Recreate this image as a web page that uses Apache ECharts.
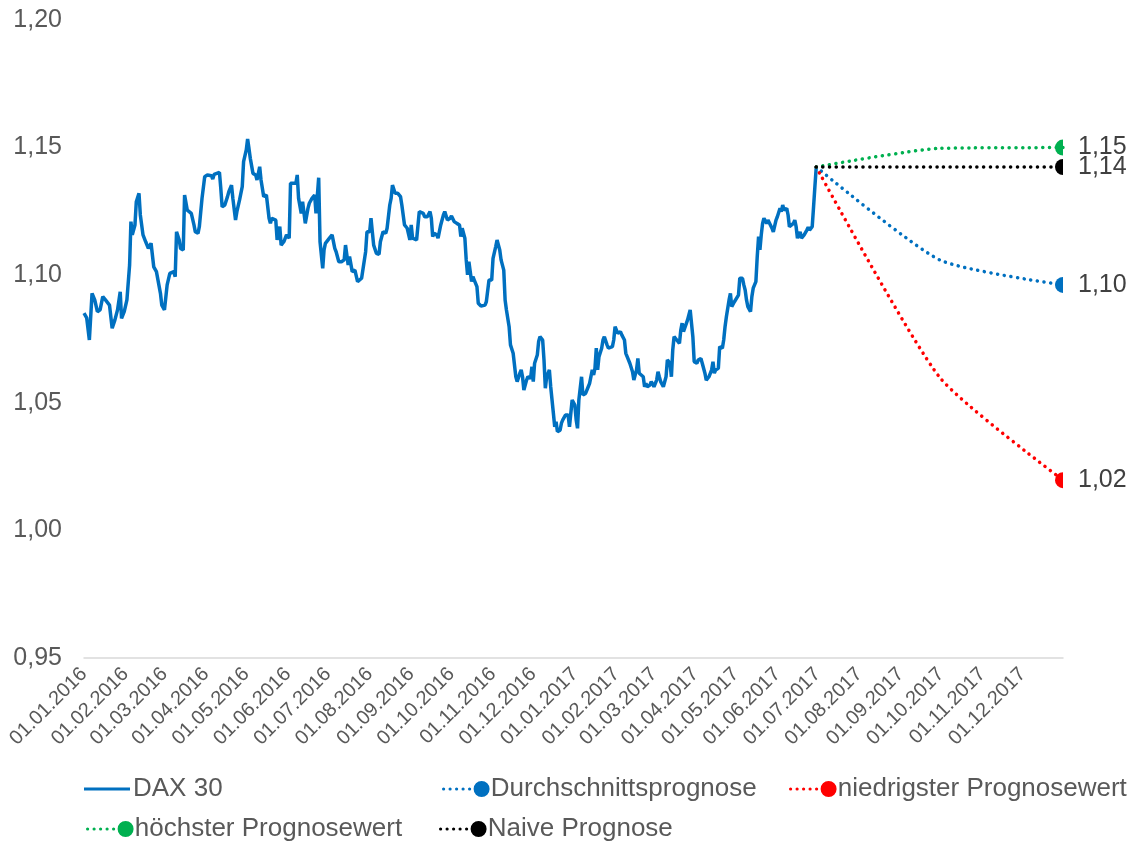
<!DOCTYPE html>
<html lang="de">
<head>
<meta charset="UTF-8">
<title>DAX 30 Prognose</title>
<style>
  html, body { margin: 0; padding: 0; background: #fff; }
</style>
</head>
<body>
<div id="main" style="width: 1141px; height: 843px;"></div>

<script src="https://cdn.jsdelivr.net/npm/echarts@6/dist/echarts.min.js"></script>
<script>
// Kursverlauf
var daxDates = [
  '2016-01-01','2016-01-03','2016-01-05','2016-01-07','2016-01-09','2016-01-11','2016-01-13','2016-01-15','2016-01-17','2016-01-18',
  '2016-01-20','2016-01-22','2016-01-24','2016-01-26','2016-01-28','2016-01-29','2016-01-31','2016-02-02','2016-02-04','2016-02-05',
  '2016-02-06','2016-02-08','2016-02-09','2016-02-11','2016-02-12','2016-02-14','2016-02-16','2016-02-18','2016-02-20','2016-02-22',
  '2016-02-24','2016-02-25','2016-02-27','2016-02-28','2016-03-01','2016-03-02','2016-03-03','2016-03-05','2016-03-08','2016-03-09',
  '2016-03-10','2016-03-12','2016-03-13','2016-03-15','2016-03-16','2016-03-18','2016-03-21','2016-03-23','2016-03-24','2016-03-26',
  '2016-03-27','2016-03-29','2016-03-31','2016-04-02','2016-04-05','2016-04-06','2016-04-07','2016-04-09','2016-04-11','2016-04-12',
  '2016-04-13','2016-04-15','2016-04-17','2016-04-18','2016-04-20','2016-04-21','2016-04-23','2016-04-24','2016-04-26','2016-04-28',
  '2016-04-29','2016-05-01','2016-05-02','2016-05-03','2016-05-04','2016-05-06','2016-05-08','2016-05-09','2016-05-11','2016-05-12',
  '2016-05-14','2016-05-16','2016-05-18','2016-05-19','2016-05-20','2016-05-23','2016-05-24','2016-05-26','2016-05-27','2016-05-29',
  '2016-05-30','2016-05-31','2016-06-02','2016-06-03','2016-06-04','2016-06-07','2016-06-08','2016-06-09','2016-06-11','2016-06-12',
  '2016-06-14','2016-06-16','2016-06-17','2016-06-19','2016-06-21','2016-06-22','2016-06-24','2016-06-25','2016-06-27','2016-06-28',
  '2016-06-29','2016-07-02','2016-07-04','2016-07-06','2016-07-07','2016-07-09','2016-07-11','2016-07-13','2016-07-14','2016-07-16',
  '2016-07-17','2016-07-19','2016-07-21','2016-07-23','2016-07-26','2016-07-27','2016-07-29','2016-07-30','2016-08-01','2016-08-02',
  '2016-08-03','2016-08-04','2016-08-06','2016-08-08','2016-08-09','2016-08-11','2016-08-13','2016-08-14','2016-08-16','2016-08-17',
  '2016-08-18','2016-08-20','2016-08-22','2016-08-24','2016-08-25','2016-08-26','2016-08-27','2016-08-29','2016-08-31','2016-09-01',
  '2016-09-02','2016-09-03','2016-09-05','2016-09-07','2016-09-08','2016-09-10','2016-09-11','2016-09-13','2016-09-15','2016-09-16',
  '2016-09-17','2016-09-18','2016-09-20','2016-09-21','2016-09-23','2016-09-25','2016-09-26','2016-09-28','2016-09-30','2016-10-01',
  '2016-10-03','2016-10-05','2016-10-07','2016-10-08','2016-10-09','2016-10-11','2016-10-12','2016-10-13','2016-10-14','2016-10-16',
  '2016-10-17','2016-10-18','2016-10-20','2016-10-21','2016-10-23','2016-10-26','2016-10-27','2016-10-28','2016-10-29','2016-10-31',
  '2016-11-01','2016-11-03','2016-11-04','2016-11-06','2016-11-07','2016-11-09','2016-11-10','2016-11-11','2016-11-13','2016-11-14',
  '2016-11-16','2016-11-18','2016-11-19','2016-11-21','2016-11-22','2016-11-23','2016-11-24','2016-11-26','2016-11-27','2016-11-29',
  '2016-11-30','2016-12-01','2016-12-02','2016-12-04','2016-12-05','2016-12-06','2016-12-08','2016-12-09','2016-12-10','2016-12-11',
  '2016-12-13','2016-12-14','2016-12-16','2016-12-17','2016-12-18','2016-12-19','2016-12-21','2016-12-22','2016-12-23','2016-12-25',
  '2016-12-27','2016-12-28','2016-12-29','2016-12-30','2017-01-01','2017-01-02','2017-01-03','2017-01-04','2017-01-06','2017-01-07',
  '2017-01-09','2017-01-11','2017-01-12','2017-01-14','2017-01-15','2017-01-16','2017-01-17','2017-01-18','2017-01-19','2017-01-21',
  '2017-01-22','2017-01-23','2017-01-25','2017-01-26','2017-01-27','2017-01-29','2017-01-30','2017-01-31','2017-02-02','2017-02-04',
  '2017-02-05','2017-02-07','2017-02-08','2017-02-09','2017-02-11','2017-02-13','2017-02-14','2017-02-16','2017-02-17','2017-02-18',
  '2017-02-19','2017-02-21','2017-02-22','2017-02-23','2017-02-24','2017-02-26','2017-02-27','2017-02-28','2017-03-01','2017-03-03',
  '2017-03-04','2017-03-05','2017-03-06','2017-03-08','2017-03-09','2017-03-10','2017-03-11','2017-03-13','2017-03-14','2017-03-15',
  '2017-03-16','2017-03-18','2017-03-20','2017-03-21','2017-03-22','2017-03-23','2017-03-24','2017-03-26','2017-03-28','2017-03-30',
  '2017-03-31','2017-04-02','2017-04-03','2017-04-05','2017-04-06','2017-04-08','2017-04-09','2017-04-10','2017-04-11','2017-04-13',
  '2017-04-14','2017-04-15','2017-04-16','2017-04-18','2017-04-19','2017-04-20','2017-04-21','2017-04-22','2017-04-23','2017-04-24',
  '2017-04-26','2017-04-27','2017-04-28','2017-04-29','2017-04-30','2017-05-01','2017-05-03','2017-05-04','2017-05-06','2017-05-07',
  '2017-05-08','2017-05-09','2017-05-10','2017-05-11','2017-05-12','2017-05-13','2017-05-14','2017-05-15','2017-05-16','2017-05-17',
  '2017-05-18','2017-05-19','2017-05-20','2017-05-21','2017-05-22','2017-05-23','2017-05-24','2017-05-25','2017-05-26','2017-05-28',
  '2017-05-29','2017-05-30','2017-05-31','2017-06-01','2017-06-03','2017-06-04','2017-06-05','2017-06-06','2017-06-08','2017-06-09',
  '2017-06-10','2017-06-11','2017-06-13','2017-06-14','2017-06-15','2017-06-16','2017-06-18','2017-06-19','2017-06-20','2017-06-21',
  '2017-06-23','2017-06-24','2017-06-25','2017-06-26','2017-06-27','2017-06-28','2017-06-29','2017-06-30'
];
var daxValues = [
  1.0851,1.0833,1.0746,1.0929,1.0903,1.0857,1.0864,1.0916,1.0903,1.0909,
  1.0883,1.0792,1.0824,1.0864,1.0935,1.0831,1.0857,1.0903,1.1040,1.1210,
  1.1158,1.1197,1.1288,1.1321,1.1236,1.1158,1.1131,1.1105,1.1125,1.1033,
  1.1014,1.1007,1.0929,1.0883,1.0864,1.0870,1.0962,1.1007,1.1014,1.0994,
  1.1170,1.1138,1.1105,1.1099,1.1314,1.1255,1.1242,1.1197,1.1170,1.1164,
  1.1190,1.1301,1.1386,1.1393,1.1390,1.1377,1.1395,1.1399,1.1403,1.1340,
  1.1268,1.1275,1.1308,1.1327,1.1353,1.1301,1.1216,1.1249,1.1295,1.1347,
  1.1445,1.1491,1.1534,1.1497,1.1458,1.1399,1.1393,1.1373,1.1425,1.1373,
  1.1308,1.1314,1.1223,1.1203,1.1223,1.1216,1.1138,1.1190,1.1118,1.1131,
  1.1125,1.1158,1.1145,1.1360,1.1367,1.1360,1.1393,1.1301,1.1242,1.1288,
  1.1203,1.1262,1.1282,1.1301,1.1314,1.1242,1.1382,1.1131,1.1027,1.1099,
  1.1125,1.1145,1.1158,1.1105,1.1092,1.1053,1.1053,1.1060,1.1118,1.1040,
  1.1073,1.1014,1.1020,1.0975,1.0988,1.0981,1.1092,1.1170,1.1170,1.1223,
  1.1170,1.1118,1.1086,1.1082,1.1131,1.1170,1.1164,1.1184,1.1275,1.1301,
  1.1353,1.1321,1.1321,1.1308,1.1275,1.1268,1.1197,1.1184,1.1138,1.1197,
  1.1145,1.1145,1.1138,1.1249,1.1255,1.1242,1.1229,1.1229,1.1249,1.1223,
  1.1151,1.1164,1.1158,1.1145,1.1197,1.1236,1.1249,1.1216,1.1223,1.1232,
  1.1210,1.1203,1.1197,1.1151,1.1184,1.1145,1.1060,1.1001,1.1053,1.0975,
  1.0994,1.0981,1.0955,1.0890,1.0879,1.0883,1.0896,1.0903,1.0981,1.0981,
  1.1066,1.1112,1.1138,1.1099,1.1060,1.1020,1.0903,1.0864,1.0798,1.0727,
  1.0694,1.0602,1.0583,1.0616,1.0629,1.0602,1.0550,1.0589,1.0602,1.0596,
  1.0641,1.0583,1.0655,1.0687,1.0740,1.0759,1.0746,1.0668,1.0557,1.0602,
  1.0629,1.0563,1.0459,1.0406,1.0426,1.0387,1.0393,1.0420,1.0433,1.0452,
  1.0452,1.0406,1.0459,1.0511,1.0491,1.0433,1.0400,1.0511,1.0602,1.0531,
  1.0537,1.0563,1.0576,1.0629,1.0609,1.0635,1.0714,1.0629,1.0681,1.0714,
  1.0746,1.0759,1.0727,1.0714,1.0720,1.0720,1.0746,1.0798,1.0772,1.0779,
  1.0766,1.0746,1.0694,1.0681,1.0655,1.0622,1.0589,1.0629,1.0674,1.0616,
  1.0616,1.0602,1.0563,1.0576,1.0563,1.0570,1.0583,1.0576,1.0563,1.0589,
  1.0622,1.0602,1.0583,1.0563,1.0557,1.0602,1.0668,1.0655,1.0602,1.0707,
  1.0759,1.0746,1.0733,1.0785,1.0812,1.0779,1.0785,1.0824,1.0864,1.0759,
  1.0661,1.0655,1.0668,1.0674,1.0655,1.0616,1.0589,1.0589,1.0602,1.0629,
  1.0661,1.0616,1.0629,1.0635,1.0720,1.0727,1.0714,1.0746,1.0798,1.0837,
  1.0903,1.0929,1.0877,1.0883,1.0896,1.0890,1.0922,1.0988,1.0988,1.0962,
  1.0942,1.0903,1.0877,1.0870,1.0857,1.0916,1.0949,1.0955,1.0975,1.1073,
  1.1151,1.1099,1.1158,1.1203,1.1223,1.1229,1.1203,1.1216,1.1210,1.1184,
  1.1170,1.1164,1.1216,1.1229,1.1262,1.1249,1.1275,1.1255,1.1262,1.1236,
  1.1190,1.1197,1.1203,1.1216,1.1190,1.1145,1.1170,1.1145,1.1138,1.1158,
  1.1177,1.1188,1.1177,1.1177,1.1190,1.1268,1.1347,1.1424
];

// Prognosen
var forecastDates = ['2017-06-30', '2017-09-30', '2017-12-31'];
var avgForecast   = [1.1424, 1.1060, 1.0962];
var lowForecast   = [1.1424, 1.0600, 1.0197];
var highForecast  = [1.1424, 1.1497, 1.1500];
var naiveForecast = [1.1424, 1.1424, 1.1424];

var FONT = '"Liberation Sans", Arial, sans-serif';
var GREY = '#595959';
var HALF_DOT = 'path://M8,0A8,8 0 0,0 8,16Z';
var DAY = 24 * 3600 * 1000;
// Linie ohne Marker; die winzigen Ecken halten die Box auf 48x16
var LINE_ICON = 'path://M0,0h0.01v0.01h-0.01z M0,6.5h46v3h-46z M47.99,15.99h0.01v0.01h-0.01z';

function comma(v) {
  return v.toFixed(2).replace('.', ',');
}

function pad(n) {
  return (n < 10 ? '0' : '') + n;
}

// punktierte Linie + Kreis am Ende, wie im Excel-Original
function dotIcon() {
  var p = [];
  [2, 8.5, 15, 21.5, 28].forEach(function (x) {
    p.push('M' + (x - 1.6) + ',8a1.6,1.6 0 1,0 3.2,0a1.6,1.6 0 1,0 -3.2,0z');
  });
  p.push('M32,8a8,8 0 1,0 16,0a8,8 0 1,0 -16,0z');
  return 'path://' + p.join(' ');
}

function legendAt(name, icon, left, top) {
  return {
    left: left,
    top: top,
    itemWidth: 48,
    itemHeight: 16,
    itemStyle: { borderWidth: 0 },
    textStyle: { fontFamily: FONT, fontSize: 26, color: GREY, padding: [0, 0, 0, -4] },
    data: [{ name: name, icon: icon }]
  };
}

function forecastSeries(name, color, values) {
  var data = values.map(function (v, i) {
    var item = { value: [forecastDates[i], v] };
    if (i < values.length - 1) {
      item.symbol = 'none';
    } else {
      item.label = { show: true };
    }
    return item;
  });
  return {
    name: name,
    type: 'line',
    clip: false,
    smooth: 0.2,
    symbol: HALF_DOT,
    symbolSize: [8, 16],
    symbolOffset: [-4, 0],
    itemStyle: { color: color, borderWidth: 0 },
    lineStyle: { color: color, width: 3.5, type: [0.1, 6.6], cap: 'round' },
    label: {
      show: false,
      position: 'right',
      distance: 15,
      fontFamily: FONT,
      fontSize: 25,
      color: '#404040',
      formatter: function (p) { return comma(p.value[1]); }
    },
    data: data
  };
}

var myChart = echarts.init(document.getElementById('main'));

var option = {
  animation: false,
  backgroundColor: '#ffffff',
  grid: { left: 84, right: 78, top: 20, bottom: 185 },
  legend: [
    legendAt('DAX 30', LINE_ICON, 79, 771),
    legendAt('Durchschnittsprognose', dotIcon(), 437, 771),
    legendAt('niedrigster Prognosewert', dotIcon(), 784, 771),
    legendAt('höchster Prognosewert', dotIcon(), 81, 811),
    legendAt('Naive Prognose', dotIcon(), 434, 811)
  ],
  xAxis: {
    type: 'time',
    min: '2016-01-01',
    max: '2017-12-31',
    splitNumber: 24,
    minInterval: 28 * DAY,
    maxInterval: 31 * DAY,
    axisLine: { show: true, lineStyle: { color: '#D9D9D9', width: 1.5 } },
    axisTick: { show: false },
    splitLine: { show: false },
    axisLabel: {
      rotate: 45,
      margin: 13,
      interval: 0,
      showMinLabel: true,
      showMaxLabel: false,
      fontFamily: FONT,
      fontSize: 20,
      color: GREY,
      hideOverlap: false,
      formatter: function (v) {
        var d = new Date(v);
        return pad(d.getDate()) + '.' + pad(d.getMonth() + 1) + '.' + d.getFullYear();
      }
    }
  },
  yAxis: {
    type: 'value',
    min: 0.95,
    max: 1.20,
    interval: 0.05,
    axisLine: { show: false },
    axisTick: { show: false },
    splitLine: { show: false },
    axisLabel: {
      margin: 22,
      fontFamily: FONT,
      fontSize: 25,
      color: GREY,
      formatter: function (v) { return comma(v); }
    }
  },
  series: [
    {
      name: 'DAX 30',
      type: 'line',
      symbol: 'none',
      showSymbol: false,
      itemStyle: { color: '#0070C0' },
      lineStyle: { color: '#0070C0', width: 3.5 },
      data: daxDates.map(function (d, i) { return [d, daxValues[i]]; })
    },
    forecastSeries('Durchschnittsprognose', '#0070C0', avgForecast),
    forecastSeries('niedrigster Prognosewert', '#FF0000', lowForecast),
    forecastSeries('höchster Prognosewert', '#00B050', highForecast),
    forecastSeries('Naive Prognose', '#000000', naiveForecast)
  ]
};

myChart.setOption(option);
</script>
</body>
</html>
